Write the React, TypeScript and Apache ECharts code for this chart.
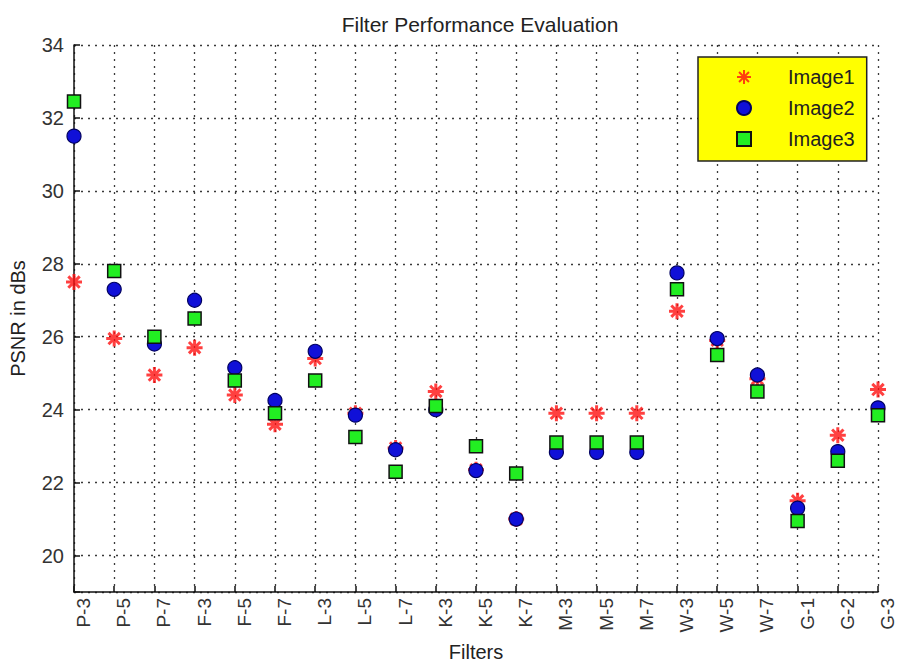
import React, { useEffect, useRef } from "react";
import * as echarts from "echarts";

// Filter names along the x axis
const filters = [
  "P-3", "P-5", "P-7", "F-3", "F-5", "F-7", "L-3", "L-5", "L-7", "K-3", "K-5",
  "K-7", "M-3", "M-5", "M-7", "W-3", "W-5", "W-7", "G-1", "G-2", "G-3",
];

// PSNR (dB) per filter for each test image
const image1 = [
  27.5, 25.95, 24.95, 25.7, 24.4, 23.6, 25.4, 23.9, 22.95, 24.5, 22.35,
  21.0, 23.9, 23.9, 23.9, 26.7, 25.9, 24.85, 21.5, 23.3, 24.55,
];
const image2 = [
  31.5, 27.3, 25.8, 27.0, 25.15, 24.25, 25.6, 23.85, 22.9, 24.0, 22.33,
  21.0, 22.83, 22.83, 22.83, 27.75, 25.95, 24.95, 21.3, 22.85, 24.05,
];
const image3 = [
  32.45, 27.8, 26.0, 26.5, 24.8, 23.9, 24.8, 23.25, 22.3, 24.1, 23.0,
  22.25, 23.1, 23.1, 23.1, 27.3, 25.5, 24.5, 20.95, 22.6, 23.85,
];

const FONT = "'Liberation Sans', Arial, sans-serif";
const ASTERISK =
  "path://M10 0 L10 20 M0 10 L20 10 M2.9 2.9 L17.1 17.1 M17.1 2.9 L2.9 17.1";

export default function App() {
  const ref = useRef<HTMLDivElement>(null);

  useEffect(() => {
    if (!ref.current) return;
    const chart = echarts.init(ref.current, null, { renderer: "svg" });

    const dotted = { type: [2, 5] as any, color: "#3a3a3a", width: 1.3 };

    chart.setOption({
      animation: false,
      backgroundColor: "#ffffff",
      title: {
        text: "Filter Performance Evaluation",
        left: 475,
        textAlign: "center",
        top: 9,
        textStyle: { fontFamily: FONT, fontSize: 21, fontWeight: "normal", color: "#222" },
      },
      legend: {
        orient: "vertical",
        left: 698,
        top: 57,
        padding: [10, 12, 12, 38],
        backgroundColor: "#ffff00",
        borderColor: "#222",
        borderWidth: 1.5,
        itemWidth: 14,
        itemHeight: 14,
        itemGap: 11,
        textStyle: {
          fontFamily: FONT,
          fontSize: 20,
          lineHeight: 20,
          color: "#222",
          padding: [0, 0, 0, 32],
        },
        data: ["Image1", "Image2", "Image3"],
      },
      grid: { left: 73, right: 31, top: 45, bottom: 72, containLabel: false },
      xAxis: {
        type: "category",
        data: filters,
        boundaryGap: false,
        name: "Filters",
        nameLocation: "middle",
        nameGap: 50,
        nameTextStyle: { fontFamily: FONT, fontSize: 20, color: "#222" },
        axisLine: { lineStyle: { color: "#111", width: 1.5 } },
        axisTick: { inside: true, length: 6, lineStyle: { color: "#111", width: 1.5 } },
        axisLabel: {
          rotate: 90,
          verticalAlign: "top",
          interval: 0,
          margin: 6,
          fontFamily: FONT,
          fontSize: 19,
          color: "#333",
        },
        splitLine: { show: true, interval: 0, lineStyle: dotted },
      },
      yAxis: {
        type: "value",
        min: 19,
        max: 34,
        minInterval: 2,
        maxInterval: 2,
        name: "PSNR in dBs",
        nameLocation: "middle",
        nameRotate: 90,
        nameGap: 46,
        nameTextStyle: { fontFamily: FONT, fontSize: 20, color: "#222" },
        axisLine: { show: true, lineStyle: { color: "#111", width: 1.5 } },
        axisTick: { show: true, inside: true, length: 6, lineStyle: { color: "#111", width: 1.5 } },
        axisLabel: {
          margin: 10,
          fontFamily: FONT,
          fontSize: 20,
          color: "#333",
          formatter: (v: number) => (v === 19 ? "" : String(v)),
        },
        splitLine: { show: true, lineStyle: dotted },
      },
      series: [
        {
          name: "Image1",
          type: "scatter",
          data: image1,
          symbol: ASTERISK,
          symbolSize: 16,
          itemStyle: { color: "#ff0000", borderColor: "#ff1010", borderWidth: 3 },
        },
        {
          name: "Image2",
          type: "scatter",
          data: image2,
          symbol: "circle",
          symbolSize: 14,
          itemStyle: { color: "#1010d8", borderColor: "#000060", borderWidth: 1.2, opacity: 1 },
        },
        {
          name: "Image3",
          type: "scatter",
          data: image3,
          symbol: "rect",
          symbolSize: 13,
          itemStyle: { color: "#22ee22", borderColor: "#111", borderWidth: 1.5, opacity: 1 },
        },
      ],
    });

    return () => chart.dispose();
  }, []);

  return <div ref={ref} style={{ width: 909, height: 667, position: "absolute", left: 0, top: 0 }} />;
}
